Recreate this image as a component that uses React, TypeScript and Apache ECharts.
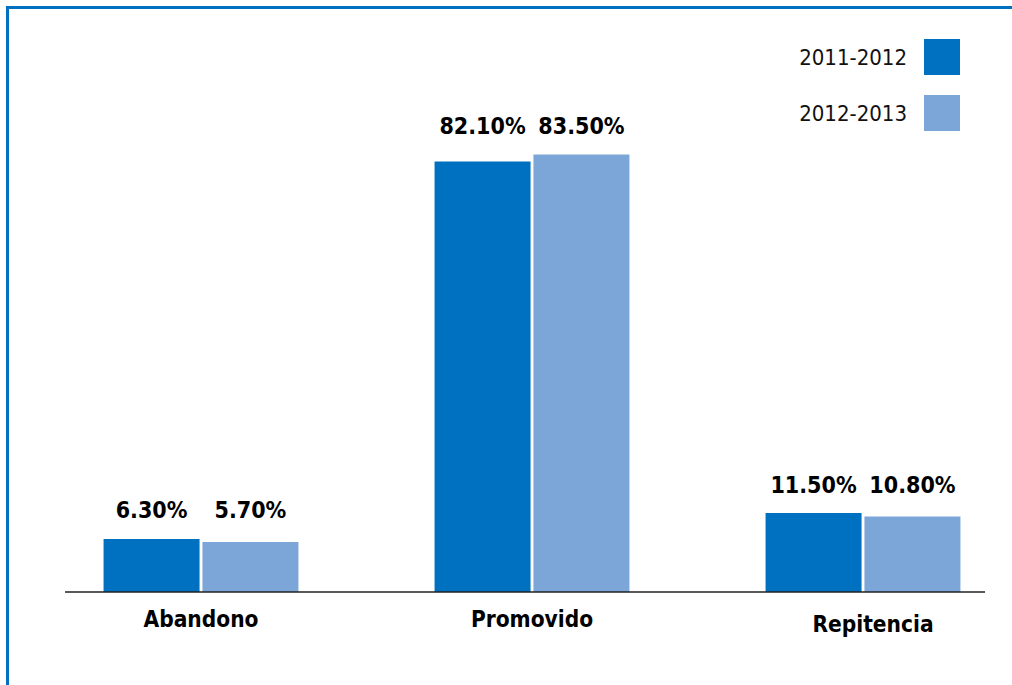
import React, { useEffect, useRef } from "react";
import * as echarts from "echarts";

const categories = ["Abandono", "Promovido", "Repitencia"];
const seriesNames = ["2011-2012", "2012-2013"];
const values2011 = [6.3, 82.1, 11.5];
const values2012 = [5.7, 83.5, 10.8];

const AXIS_MIN = -4.35;
const AXIS_MAX = 100;
const GRID_TOP = 72.3;
const GRID_BOTTOM = 93;
const H = 685;
const W = 1012;
const FONT = "'DejaVu Sans Condensed', 'Liberation Sans Narrow', sans-serif";
const DARK = "#0070C0";
const LIGHT = "#7CA6D8";

export default function App() {
  const ref = useRef<HTMLDivElement>(null);
  useEffect(() => {
    if (!ref.current) return;
    const chart = echarts.init(ref.current, null, { renderer: "svg" });
    const gridH = H - GRID_TOP - GRID_BOTTOM;
    const pxPerUnit = gridH / (AXIS_MAX - AXIS_MIN);
    const catMax = categories.map((_, i) => Math.max(values2011[i], values2012[i]));
    const mkData = (vals: number[]) =>
      vals.map((v, i) => ({
        value: v,
        label: { distance: 17 + (catMax[i] - v) * pxPerUnit },
      }));
    const labelStyle = {
      show: true,
      position: "top",
      fontFamily: FONT,
      fontWeight: "bold",
      fontSize: 23,
      color: "#000",
      formatter: (p: any) => p.value.toFixed(2) + "%",
    };
    const catTextStyle = {
      fontFamily: FONT,
      fontWeight: "bold",
      fontSize: 22.5,
      color: "#000",
    };
    chart.setOption({
      animation: false,
      backgroundColor: "#fff",
      grid: {
        left: 35.5,
        width: 993,
        top: GRID_TOP,
        bottom: GRID_BOTTOM,
        outerBoundsMode: "none",
        containLabel: false,
      },
      legend: {
        orient: "vertical",
        align: "right",
        right: 47,
        top: 34,
        itemWidth: 36,
        itemHeight: 36,
        itemGap: 20,
        icon: "rect",
        data: seriesNames,
        textStyle: {
          fontFamily: FONT,
          fontSize: 22,
          color: "#111",
          padding: [0, 12, 0, 0],
        },
      },
      xAxis: {
        type: "category",
        data: categories,
        axisLine: { show: false },
        axisTick: { show: false },
        axisLabel: {
          ...catTextStyle,
          margin: 15,
          formatter: (v: string, i: number) =>
            i === categories.length - 1 ? "{s|" + v + "}" : "{n|" + v + "}",
          rich: {
            n: { ...catTextStyle },
            s: { ...catTextStyle, padding: [5, 0, 0, 20] },
          },
        },
      },
      yAxis: {
        type: "value",
        min: AXIS_MIN,
        max: AXIS_MAX,
        startValue: AXIS_MIN,
        show: false,
        splitLine: { show: false },
      },
      series: [
        {
          name: seriesNames[0],
          type: "bar",
          barWidth: 96,
          barGap: "3%",
          itemStyle: { color: DARK },
          label: labelStyle,
          data: mkData(values2011),
        },
        {
          name: seriesNames[1],
          type: "bar",
          barWidth: 96,
          barGap: "3%",
          itemStyle: { color: LIGHT },
          label: labelStyle,
          data: mkData(values2012),
        },
      ],
      graphic: [
        {
          type: "line",
          shape: { x1: 65, y1: H - GRID_BOTTOM, x2: 985, y2: H - GRID_BOTTOM },
          style: { stroke: "#222", lineWidth: 1.5 },
          z: 10,
        },
        {
          type: "rect",
          shape: { x: 6, y: 6, width: W - 6, height: 3 },
          style: { fill: DARK },
        },
        {
          type: "rect",
          shape: { x: 6, y: 6, width: 3, height: H - 6 },
          style: { fill: DARK },
        },
      ],
    });
    return () => chart.dispose();
  }, []);
  return (
    <div
      ref={ref}
      style={{ position: "fixed", left: 0, top: 0, width: W, height: H }}
    />
  );
}
